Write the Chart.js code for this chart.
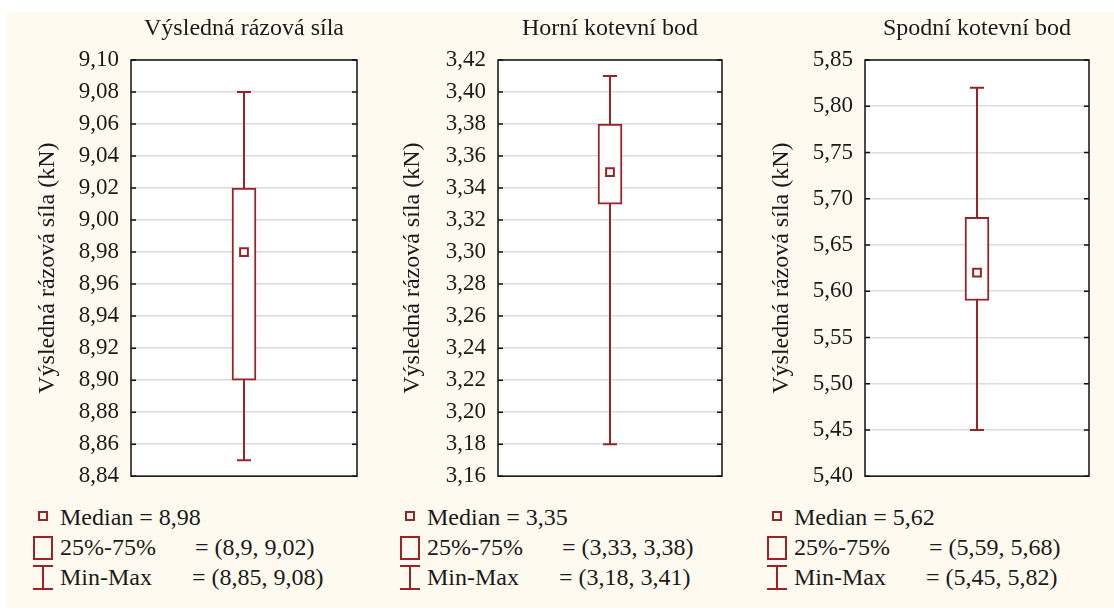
<!DOCTYPE html>
<html>
<head>
<meta charset="utf-8">
<script src="https://cdn.jsdelivr.net/npm/chart.js@4.4.1/dist/chart.umd.min.js"></script>
<style>
  body { margin: 0; width: 1114px; height: 614px; overflow: hidden; position: relative; background: #ffffff; color: #1a1a1a; }
  #bg { position: absolute; left: 7px; top: 12px; width: 1107px; height: 596px; background: #fffaf0; }
  .panel { position: absolute; top: 0; height: 502px; }
  .row { position: absolute; font-size: 24px; line-height: 30px; white-space: pre; }
  .lab { display: inline-block; }
  .ico { position: absolute; box-sizing: border-box; }
</style>
</head>
<body>
<div id="bg"></div>
<div id="root"></div>
<script>
// Box-and-whisker summaries for the three measured forces (kN)
const panelTitles = ['Výsledná rázová síla', 'Horní kotevní bod', 'Spodní kotevní bod'];
const axisTitle = 'Výsledná rázová síla (kN)';
const medians = [8.98, 3.35, 5.62];
const q25 = [8.90, 3.33, 5.59];
const q75 = [9.02, 3.38, 5.68];
const mins = [8.85, 3.18, 5.45];
const maxs = [9.08, 3.41, 5.82];

// Y-axis tick values for each panel
const ticks1 = [8.84, 8.86, 8.88, 8.90, 8.92, 8.94, 8.96, 8.98, 9.00, 9.02, 9.04, 9.06, 9.08, 9.10];
const ticks2 = [3.16, 3.18, 3.20, 3.22, 3.24, 3.26, 3.28, 3.30, 3.32, 3.34, 3.36, 3.38, 3.40, 3.42];
const ticks3 = [5.40, 5.45, 5.50, 5.55, 5.60, 5.65, 5.70, 5.75, 5.80, 5.85];
const tickSets = [ticks1, ticks2, ticks3];

const RED = '#9b2226';
const INK = '#1a1a1a';

// Pick the first installed serif face; fall back to the generic family
function pickFont(candidates, generic) {
  const c = document.createElement('canvas').getContext('2d');
  const sample = 'Výsledná rázová síla 0123456789 (kN) Mm';
  for (const name of candidates) {
    let found = false;
    for (const base of ['monospace', 'sans-serif', 'serif']) {
      c.font = '40px ' + base;
      const w0 = c.measureText(sample).width;
      c.font = "40px '" + name + "', " + base;
      if (Math.abs(c.measureText(sample).width - w0) > 0.5) { found = true; break; }
    }
    if (found) return "'" + name + "', " + generic;
  }
  return generic;
}
const SERIF = pickFont(['Liberation Serif', 'Tinos', 'Times New Roman', 'Noto Serif', 'DejaVu Serif',
                        'FreeSerif', 'Nimbus Roman', 'Noto Serif CJK SC', 'Georgia'], 'serif');
document.body.style.fontFamily = SERIF;

const panelLeft = [0, 367, 734];
const panelWidth = [367, 365, 365];
const titlePad = [33, 31, 33];

const comma = v => String(v).replace('.', ',');
const comma2 = v => v.toFixed(2).replace('.', ',');

// White plot background, frame, inner tick marks, whiskers and panel title
const boxPlotDecor = {
  id: 'boxPlotDecor',
  beforeDraw(chart) {
    const { ctx, chartArea: a } = chart;
    ctx.save();
    ctx.fillStyle = '#ffffff';
    ctx.fillRect(a.left, a.top, a.right - a.left, a.bottom - a.top);
    ctx.restore();
  },
  beforeDatasetsDraw(chart, args, opts) {
    const { ctx, chartArea: a, scales: { y } } = chart;
    const i = opts.index;
    ctx.save();
    ctx.strokeStyle = '#111111';
    ctx.lineWidth = 1.5;
    ctx.strokeRect(a.left, a.top, a.right - a.left, a.bottom - a.top);
    y.ticks.forEach(t => {
      const py = y.getPixelForValue(t.value);
      ctx.beginPath();
      ctx.moveTo(a.left, py); ctx.lineTo(a.left + 5, py);
      ctx.moveTo(a.right, py); ctx.lineTo(a.right - 5, py);
      ctx.stroke();
    });
    const bar = chart.getDatasetMeta(0).data[0];
    const x = bar.x;
    const yMin = y.getPixelForValue(mins[i]);
    const yMax = y.getPixelForValue(maxs[i]);
    const cap = 7;
    ctx.strokeStyle = RED;
    ctx.lineWidth = 2;
    ctx.beginPath();
    ctx.moveTo(x, yMin); ctx.lineTo(x, yMax);
    ctx.moveTo(x - cap, yMin); ctx.lineTo(x + cap, yMin);
    ctx.moveTo(x - cap, yMax); ctx.lineTo(x + cap, yMax);
    ctx.stroke();
    ctx.restore();
  },
  afterDraw(chart, args, opts) {
    const { ctx, chartArea: a } = chart;
    ctx.save();
    ctx.fillStyle = INK;
    ctx.font = '24px ' + SERIF;
    ctx.textAlign = 'center';
    ctx.textBaseline = 'alphabetic';
    ctx.fillText(panelTitles[opts.index], (a.left + a.right) / 2, 35);
    ctx.restore();
  }
};

const root = document.getElementById('root');

for (let i = 0; i < 3; i++) {
  const wrap = document.createElement('div');
  wrap.className = 'panel';
  wrap.style.left = panelLeft[i] + 'px';
  wrap.style.width = panelWidth[i] + 'px';
  const canvas = document.createElement('canvas');
  canvas.width = panelWidth[i];
  canvas.height = 502;
  wrap.appendChild(canvas);
  root.appendChild(wrap);

  const tv = tickSets[i];
  new Chart(canvas, {
    type: 'bar',
    data: {
      labels: [''],
      datasets: [
        {
          type: 'bar',
          data: [[q25[i], q75[i]]],
          backgroundColor: '#ffffff',
          borderColor: RED,
          borderWidth: 2,
          borderSkipped: false,
          barThickness: 24,
          order: 1
        },
        {
          type: 'line',
          data: [medians[i]],
          showLine: false,
          pointStyle: 'rect',
          pointRadius: 5.5,
          pointBorderWidth: 2,
          pointBorderColor: RED,
          pointBackgroundColor: '#ffffff',
          order: 0
        }
      ]
    },
    options: {
      responsive: false,
      animation: false,
      devicePixelRatio: 1,
      layout: { padding: { top: 60, right: panelWidth[i] - 357 + (i ? 2 : 0), bottom: 0, left: 0 } },
      plugins: {
        legend: { display: false },
        tooltip: { enabled: false },
        boxPlotDecor: { index: i }
      },
      scales: {
        x: { display: false },
        y: {
          min: tv[0],
          max: tv[tv.length - 1],
          afterFit: s => { s.width = 131; },
          afterBuildTicks: s => { s.ticks = tv.map(v => ({ value: v })); },
          ticks: {
            color: INK,
            font: { family: SERIF, size: 23 },
            padding: 12,
            callback: v => comma2(v)
          },
          grid: { color: '#dcdcdc', lineWidth: 1.5, drawTicks: false },
          border: { display: false },
          title: {
            display: true,
            text: axisTitle,
            color: INK,
            font: { family: SERIF, size: 24 },
            padding: { top: titlePad[i], bottom: 0 }
          }
        }
      }
    },
    plugins: [boxPlotDecor]
  });

  // Legend under the panel
  const ox = panelLeft[i];
  const rows = [
    { top: 502, html: 'Median = ' + comma(medians[i]) },
    { top: 532, html: '<span class="lab" style="width:135px">25%-75%</span>= (' + comma(q25[i]) + ', ' + comma(q75[i]) + ')' },
    { top: 562, html: '<span class="lab" style="width:132px">Min-Max</span>= (' + comma(mins[i]) + ', ' + comma(maxs[i]) + ')' }
  ];
  rows.forEach(r => {
    const d = document.createElement('div');
    d.className = 'row';
    d.style.left = (ox + 60) + 'px';
    d.style.top = r.top + 'px';
    d.innerHTML = r.html;
    root.appendChild(d);
  });

  const icons = [
    { l: 38, t: 511, w: 10, h: 10, css: 'border:2px solid ' + RED },
    { l: 33, t: 536, w: 20, h: 24, css: 'border:2px solid ' + RED },
    { l: 42, t: 565, w: 2, h: 25, css: 'background:' + RED },
    { l: 33, t: 565, w: 20, h: 2, css: 'background:' + RED },
    { l: 33, t: 588, w: 20, h: 2, css: 'background:' + RED }
  ];
  icons.forEach(c => {
    const d = document.createElement('div');
    d.className = 'ico';
    d.style.cssText = 'left:' + (ox + c.l) + 'px;top:' + c.t + 'px;width:' + c.w + 'px;height:' + c.h + 'px;' + c.css;
    root.appendChild(d);
  });
}
</script>
</body>
</html>
